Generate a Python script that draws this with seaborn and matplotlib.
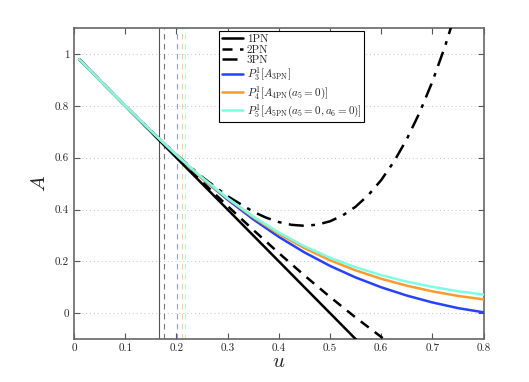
import numpy as np
import pandas as pd
import matplotlib
matplotlib.use("Agg")
import matplotlib.pyplot as plt
import seaborn as sns

# u grid shared by most curves
u = [0.01, 0.05, 0.10, 0.15, 0.20, 0.25, 0.30, 0.35, 0.40, 0.45,
     0.50, 0.55, 0.60, 0.65, 0.70, 0.75, 0.80]

a_1pn = [0.98, 0.90, 0.80, 0.70, 0.60, 0.50, 0.40, 0.30, 0.20, 0.10,
         0.00, -0.10, -0.20, -0.30, -0.40, -0.50, -0.60]
a_2pn = [0.98, 0.9001, 0.8005, 0.7017, 0.604, 0.5078, 0.4135, 0.3214, 0.232, 0.1456,
         0.0625, -0.0168, -0.092, -0.1627, -0.2285, -0.2891, -0.344]

# 3PN has a finer grid where it bends upward
u_3pn = [0.01, 0.05, 0.10, 0.15, 0.20, 0.25, 0.30, 0.35, 0.375, 0.40, 0.425, 0.45,
         0.475, 0.50, 0.525, 0.55, 0.575, 0.60, 0.625, 0.65, 0.675, 0.70, 0.725, 0.75]
a_3pn = [0.98, 0.9001, 0.8010, 0.7041, 0.6115, 0.5260, 0.4513, 0.3915, 0.3688, 0.3516,
         0.3408, 0.3372, 0.3414, 0.3545, 0.3773, 0.4107, 0.4558, 0.5135, 0.5850, 0.6713,
         0.7737, 0.8933, 1.0312, 1.1892]

a_p13 = [0.98, 0.9001, 0.8009, 0.7037, 0.6098, 0.5208, 0.4380, 0.3624, 0.2945, 0.2346,
         0.1825, 0.1378, 0.0998, 0.0678, 0.0412, 0.0193, 0.0030]
a_p14 = [0.98, 0.9001, 0.8010, 0.7039, 0.6106, 0.5203, 0.4422, 0.3698, 0.3060, 0.2510,
         0.2042, 0.1651, 0.1326, 0.1059, 0.0841, 0.0663, 0.0530]
a_p15 = [0.98, 0.9001, 0.8010, 0.7040, 0.6109, 0.5238, 0.4441, 0.3732, 0.3114, 0.2585,
         0.2142, 0.1772, 0.1467, 0.1217, 0.1013, 0.0845, 0.0715]

# vertical markers (last stable orbits)
lso_u = [0.1667, 0.1752, 0.2018, 0.2110, 0.2163]
lso_colors = ["#555555", "#777777", "#8c9cff", "#ffc98a", "#a8ffe8"]
lso_styles = ["-", "--", "--", "--", "--"]

labels = ["1PN", "2PN", "3PN",
          r"$P^1_3[A_{\rm 3PN}]$",
          r"$P^1_4[A_{\rm 4PN}(a_5=0)]$",
          r"$P^1_5[A_{\rm 5PN}(a_5=0,a_6=0)]$"]

sns.set_style("ticks")
plt.rcParams["font.family"] = ["cmr10", "DejaVu Serif"]
plt.rcParams["mathtext.fontset"] = "cm"
plt.rcParams["axes.formatter.use_mathtext"] = True

fig = plt.figure(figsize=(5.29, 3.82), dpi=100)
ax = fig.add_axes([0.140, 0.1126, 0.774, 0.8134])

for x, c, ls in zip(lso_u, lso_colors, lso_styles):
    ax.axvline(x, color=c, ls=ls, lw=0.8, dashes=(5, 4) if ls == "--" else (None, None), zorder=1)

ax.yaxis.grid(True, color="#c4c4c4", ls=(0, (1, 3)), lw=0.7)

sns.lineplot(x=u, y=a_1pn, ax=ax, color="black", lw=1.8, label=labels[0], zorder=3)
sns.lineplot(x=u, y=a_2pn, ax=ax, color="black", lw=1.8, label=labels[1], zorder=3)
sns.lineplot(x=u_3pn, y=a_3pn, ax=ax, color="black", lw=1.8, label=labels[2], zorder=3)
sns.lineplot(x=u, y=a_p13, ax=ax, color="#2742ff", lw=1.8, label=labels[3], zorder=4)
sns.lineplot(x=u, y=a_p14, ax=ax, color="#ff9a2e", lw=1.8, label=labels[4], zorder=5)
sns.lineplot(x=u, y=a_p15, ax=ax, color="#7dffe4", lw=1.8, label=labels[5], zorder=6)

lines = ax.get_lines()[-6:]
lines[1].set_dashes((4, 3))
lines[2].set_dashes((6, 3, 1.5, 3))

ax.set_xlim(0, 0.8)
ax.set_ylim(-0.1, 1.1)
ax.set_xticks(np.arange(0, 0.81, 0.1))
ax.set_yticks([0, 0.2, 0.4, 0.6, 0.8, 1])
ax.set_xticklabels(["0", "0.1", "0.2", "0.3", "0.4", "0.5", "0.6", "0.7", "0.8"])
ax.set_yticklabels(["0", "0.2", "0.4", "0.6", "0.8", "1"])
ax.tick_params(direction="in", top=True, right=True, labelsize=8, length=4, color="#555555")
for s in ax.spines.values():
    s.set_color("#666666")
    s.set_linewidth(1.2)

ax.set_xlabel(r"$u$", fontsize=15, labelpad=0)
ax.set_ylabel(r"$A$", fontsize=15, labelpad=4)

leg = ax.legend(loc="upper left", bbox_to_anchor=(0.355, 0.99), fontsize=8,
                frameon=True, fancybox=False, edgecolor="black", framealpha=1,
                handlelength=1.9, handletextpad=0.3, labelspacing=0.08,
                borderpad=0.25, borderaxespad=0)
leg.get_frame().set_linewidth(0.8)

fig.savefig("out.png", dpi=100)
